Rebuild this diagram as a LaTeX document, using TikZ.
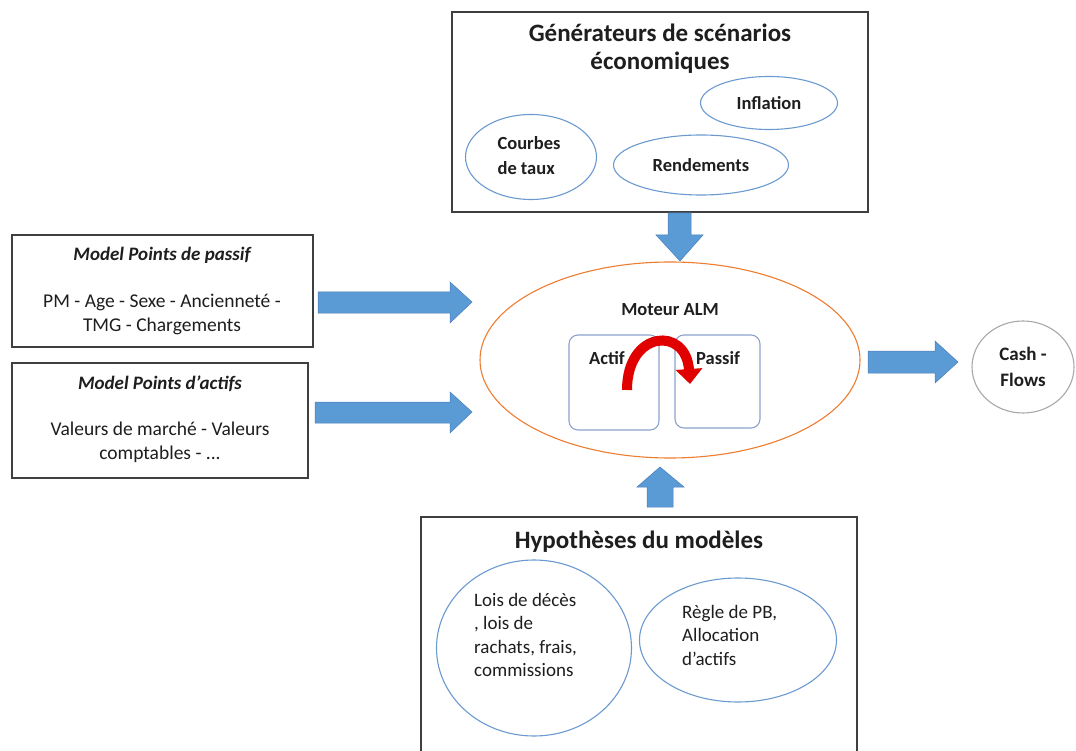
\documentclass[tikz,border=0pt]{standalone}
\usepackage{fontspec}
\setmainfont{Carlito}
\usetikzlibrary{arrows.meta,shapes.geometric}
\definecolor{boxgray}{HTML}{3F3F3F}
\definecolor{arrowblue}{HTML}{5B9BD5}
\definecolor{arrowedge}{HTML}{4A7EBB}
\definecolor{ovalblue}{HTML}{6C9AD0}
\definecolor{inblue}{HTML}{8DA3CB}
\definecolor{almorange}{HTML}{ED7D31}
\definecolor{cfgray}{HTML}{A8A8A8}
\definecolor{txt}{HTML}{1E1E1E}
\definecolor{curvered}{HTML}{E00000}
\tikzset{
  frame/.style={draw=boxgray, line width=1.6pt},
  oval/.style={ellipse, draw=ovalblue, line width=1.1pt, inner sep=0pt},
  blockarrow/.style={fill=arrowblue, draw=arrowedge, line width=0.5pt},
  ttl/.style={font=\bfseries\fontsize{25}{28}\selectfont, text=txt, align=center},
  sub/.style={font=\bfseries\fontsize{18.5}{25}\selectfont, text=txt},
  body/.style={font=\fontsize{19.5}{24}\selectfont, text=txt},
  lowbody/.style={font=\fontsize{19}{23.5}\selectfont, text=txt, align=left, anchor=north west, inner sep=0pt},
  mptitle/.style={font=\bfseries\itshape\fontsize{19}{22}\selectfont, text=txt},
  sidebox/.style={draw=boxgray, line width=1.4pt, inner sep=0pt},
  innerbox/.style={draw=inblue, line width=1.1pt, rounded corners=9pt, inner sep=0pt}
}
\begin{document}
\begin{tikzpicture}[x=1pt,y=-1pt]
\useasboundingbox[fill=white] (0,0) rectangle (1076,751);

% ---------- top box ----------
\node[sidebox, line width=1.6pt, minimum width=416, minimum height=200] (top) at (660,112) {};
\node[ttl] (toptitle) at (660,49) {Générateurs de scénarios\\économiques};
\node[oval, minimum width=137, minimum height=53] (infl) at (769,103) {};
\node[sub] at (infl) {Inflation};
\node[oval, minimum width=175, minimum height=60] (rend) at (701,165) {};
\node[sub] at (rend) {Rendements};
\node[oval, minimum width=131, minimum height=85] (courbes) at (531,157) {};
\node[sub, align=left] at (529,156) {Courbes\\de taux};

% ---------- left boxes ----------
\node[sidebox, minimum width=301, minimum height=112] (mpp) at (162.5,291) {};
\node[mptitle] at (162,255) {Model Points de passif};
\node[body, align=center] at (162,314) {PM - Age - Sexe - Ancienneté -\\TMG - Chargements};
\node[sidebox, minimum width=296, minimum height=115] (mpa) at (160,420.5) {};
\node[mptitle] at (160,384) {Model Points d'actifs};
\node[body, align=center] at (160,442) {Valeurs de marché - Valeurs\\comptables - ...};

% ---------- central engine ----------
\node[ellipse, draw=almorange, line width=1.1pt, minimum width=380, minimum height=196, inner sep=0pt] (alm) at (670,360) {};
\node[sub] at (670,310) {Moteur ALM};
\node[innerbox, minimum width=90, minimum height=95] (actif) at (614,382.5) {};
\node[innerbox, minimum width=85, minimum height=93] (passif) at (717.5,381.5) {};
\node[sub] (actiftxt) at (607,358) {Actif};
\node[sub] (passiftxt) at (718,358) {Passif};
\coordinate (rs) at (627,390);
\coordinate (re) at (690,384);
\draw[curvered, line width=10pt, -{Triangle[width=26pt,length=15pt]}]
  (rs) .. controls (627,330) and (686,326) .. (re);

% ---------- cash flows ----------
\node[ellipse, draw=cfgray, line width=1.1pt, minimum width=102, minimum height=92, inner sep=0pt] (cf) at (1023,367) {};
\node[sub, align=center, font=\bfseries\fontsize{19}{26}\selectfont] at (cf) {Cash -\\Flows};

% ---------- bottom box ----------
\draw[frame, line width=1.4pt] (421,760) -- (421,517) -- (857,517) -- (857,760);
\node[ttl] (bottitle) at (639,542) {Hypothèses du modèles};
\node[oval, minimum width=195, minimum height=176] (lois) at (534,648) {};
\node[lowbody] at (474,593) {Lois de décès\\, lois de\\rachats, frais,\\commissions};
\node[oval, minimum width=197, minimum height=124] (regle) at (738,640) {};
\node[lowbody] at (682,605) {Règle de PB,\\Allocation\\d'actifs};

% ---------- block arrows ----------
% from passif model points
\path[blockarrow] (318,292) -- (450,292) -- (450,282) -- (472,302) -- (450,323) -- (450,313) -- (318,313) -- cycle;
% from actif model points
\path[blockarrow] (315,402) -- (450,402) -- (450,392) -- (472,412) -- (450,433) -- (450,423) -- (315,423) -- cycle;
% from scenario generator down
\path[blockarrow] (668,213) -- (691,213) -- (691,235) -- (703,235) -- (680,261) -- (656,235) -- (668,235) -- cycle;
% from hypotheses up
\path[blockarrow] (647,507) -- (673,507) -- (673,487) -- (684,487) -- (660,467) -- (637,487) -- (647,487) -- cycle;
% to cash flows
\path[blockarrow] (868,351) -- (935,351) -- (935,341) -- (958,362) -- (935,383) -- (935,373) -- (868,373) -- cycle;
\end{tikzpicture}
\end{document}
